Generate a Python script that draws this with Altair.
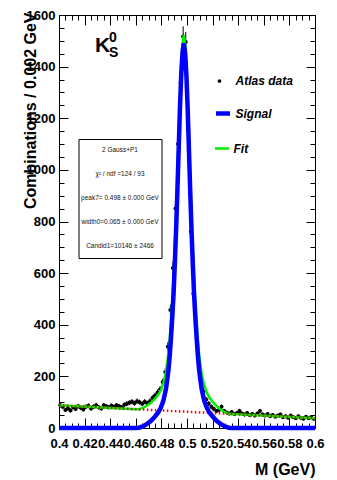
import altair as alt
import pandas as pd

# ---------------- data ----------------
# histogram: 100 bins of 0.002 GeV from 0.400 to 0.600
bin_start = 0.400
bin_width = 0.002
counts = [88, 82, 70, 76, 68, 80, 74, 84, 78, 72,
          82, 86, 76, 82, 88, 80, 76, 88, 84, 80,
          86, 82, 88, 84, 80, 90, 94, 98, 102, 96,
          104, 100, 94, 102, 96, 104, 116, 126, 138, 150,
          178, 217, 315, 457, 620, 850, 1100, 1337, 1517, 1495,
          1153, 760, 520, 400, 270, 185, 140, 110, 95, 82,
          74, 66, 70, 82, 66, 60, 56, 62, 54, 58,
          66, 56, 52, 58, 50, 54, 48, 56, 66, 52,
          48, 54, 46, 50, 44, 48, 52, 42, 46, 40,
          48, 42, 38, 46, 40, 36, 44, 38, 42, 36]
errors = [9.4, 9.1, 8.4, 8.7, 8.2, 8.9, 8.6, 9.2, 8.8, 8.5,
          9.1, 9.3, 8.7, 9.1, 9.4, 8.9, 8.7, 9.4, 9.2, 8.9,
          9.3, 9.1, 9.4, 9.2, 8.9, 9.5, 9.7, 9.9, 10.1, 9.8,
          10.2, 10.0, 9.7, 10.1, 9.8, 10.2, 10.8, 11.2, 11.7, 12.2,
          13.3, 14.7, 17.7, 21.4, 24.9, 29.2, 33.2, 36.6, 38.9, 38.7,
          34.0, 27.6, 22.8, 20.0, 16.4, 13.6, 11.8, 10.5, 9.7, 9.1,
          8.6, 8.1, 8.4, 9.1, 8.1, 7.7, 7.5, 7.9, 7.3, 7.6,
          8.1, 7.5, 7.2, 7.6, 7.1, 7.3, 6.9, 7.5, 8.1, 7.2,
          6.9, 7.3, 6.8, 7.1, 6.6, 6.9, 7.2, 6.5, 6.8, 6.3,
          6.9, 6.5, 6.2, 6.8, 6.3, 6.0, 6.6, 6.2, 6.5, 6.0]

# signal (2 Gaussians) and total fit curves
curve_x = [0.400, 0.4595, 0.4625, 0.4655, 0.4685, 0.4715, 0.4745, 0.4775, 0.4795,
           0.4815, 0.4835, 0.4845, 0.4855, 0.4865, 0.4875, 0.4885, 0.4895, 0.4905,
           0.4915, 0.4925, 0.4935, 0.4945, 0.4955, 0.4965, 0.4975, 0.4985, 0.4995,
           0.5005, 0.5015, 0.5025, 0.5035, 0.5045, 0.5055, 0.5065, 0.5075, 0.5085,
           0.5095, 0.5105, 0.5115, 0.5135, 0.5155, 0.5175, 0.5205, 0.5235, 0.5265,
           0.5295, 0.5325, 0.5355, 0.600]
signal_y = [0, 0, 1, 6, 15, 26, 42, 60, 78,
            105, 150, 185, 225, 280, 350, 430, 520, 640,
            770, 920, 1080, 1240, 1370, 1455, 1490, 1455, 1370,
            1240, 1080, 920, 770, 640, 520, 430, 350, 280,
            225, 185, 150, 105, 78, 60, 42, 26, 15,
            6, 1, 0, 0]
fit_y = [88, 73, 73, 78, 86, 96, 111, 129, 146,
         173, 217, 252, 291, 346, 416, 496, 585, 705,
         835, 985, 1140, 1285, 1405, 1488, 1522, 1488, 1405,
         1285, 1138, 980, 832, 702, 581, 491, 411, 341,
         285, 245, 210, 164, 137, 118, 99, 83, 71,
         61, 55, 54, 38]
# linear background (P1)
bkg_x = [0.400, 0.600]
bkg_y = [88, 38]

# axis tick values
x_major = [0.40, 0.42, 0.44, 0.46, 0.48, 0.50, 0.52, 0.54, 0.56, 0.58, 0.60]
x_minor = [0.400, 0.405, 0.410, 0.415, 0.420, 0.425, 0.430, 0.435, 0.440, 0.445,
           0.450, 0.455, 0.460, 0.465, 0.470, 0.475, 0.480, 0.485, 0.490, 0.495,
           0.500, 0.505, 0.510, 0.515, 0.520, 0.525, 0.530, 0.535, 0.540, 0.545,
           0.550, 0.555, 0.560, 0.565, 0.570, 0.575, 0.580, 0.585, 0.590, 0.595, 0.600]
y_major = [0, 200, 400, 600, 800, 1000, 1200, 1400, 1600]
y_minor = [0, 50, 100, 150, 200, 250, 300, 350, 400, 450, 500, 550, 600, 650, 700,
           750, 800, 850, 900, 950, 1000, 1050, 1100, 1150, 1200, 1250, 1300, 1350,
           1400, 1450, 1500, 1550, 1600]

stats_lines = ["2 Gauss+P1",
               "\u03c7\u00b2 / ndf =124 / 93",
               "peak7= 0.498 \u00b1 0.000 GeV",
               "width0=0.065 \u00b1 0.000 GeV",
               "Candid1=10146 \u00b1 2466"]

# ---------------- frames ----------------
centers = [round(bin_start + bin_width * (i + 0.5), 4) for i in range(len(counts))]
hist = pd.DataFrame({"m": centers, "n": counts, "e": errors})
hist["lo"] = hist["n"] - hist["e"]
hist["hi"] = hist["n"] + hist["e"]
hist["m_lo"] = hist["m"] - bin_width / 2
hist["m_hi"] = hist["m"] + bin_width / 2
hist["series"] = "Atlas data"

sig = pd.DataFrame({"m": curve_x, "v": signal_y, "series": "Signal"})
fit = pd.DataFrame({"m": curve_x, "v": fit_y, "series": "Fit"})
bkg = pd.DataFrame({"m": bkg_x, "v": bkg_y})

FONT = "Liberation Sans"
W, H = 256, 413
xs = alt.Scale(domain=[0.4, 0.6], nice=False, zero=False)
ys = alt.Scale(domain=[0, 1600], nice=False, zero=False)


def tick_axis(orient, values, size):
    return alt.Axis(orient=orient, values=values, tickSize=size, offset=-size,
                    labels=False, domain=False, grid=False, ticks=True,
                    tickColor="black", tickWidth=1)


def legend(x, y, **kw):
    return alt.Legend(orient="none", legendX=x, legendY=y, title=None, padding=0,
                      labelFont=FONT, labelFontSize=12, labelFontWeight="bold",
                      labelFontStyle="italic", labelColor="black", **kw)


x_label_axis = alt.Axis(orient="bottom", values=x_major, format="~g", ticks=False,
                        tickSize=0, domain=False, grid=False, labelFont=FONT,
                        labelFontSize=13, labelFontWeight="bold", labelColor="black",
                        labelPadding=9, labelOverlap=False, labelFlush=False,
                        titleFont=FONT, titleFontSize=16, titleFontWeight="bold",
                        titleColor="black", titleX=W, titleY=46, titleAlign="right",
                        titleBaseline="alphabetic")
y_label_axis = alt.Axis(orient="left", values=y_major, format="d", ticks=False,
                        tickSize=0, domain=False, grid=False, labelFont=FONT,
                        labelFontSize=13, labelFontWeight="bold", labelColor="black",
                        labelPadding=4, labelOverlap=False, labelFlush=False,
                        titleFont=FONT, titleFontSize=16, titleFontWeight="bold",
                        titleColor="black", titleX=-29, titleY=-3, titleAngle=270,
                        titleAlign="right", titleBaseline="middle")

# data: horizontal bin bars (no axes)
hbars = alt.Chart(hist).mark_rule(color="black", strokeWidth=1.2).encode(
    x=alt.X("m_lo:Q", scale=xs, axis=None),
    x2="m_hi:Q",
    y=alt.Y("n:Q", scale=ys, axis=None),
)
# data: vertical error bars (top major / right major ticks)
ebars = alt.Chart(hist).mark_rule(color="black", strokeWidth=1).encode(
    x=alt.X("m:Q", scale=xs, axis=tick_axis("top", x_major, 10), title=None),
    y=alt.Y("lo:Q", scale=ys, axis=tick_axis("right", y_major, 9), title=None),
    y2="hi:Q",
)
# data: markers (top minor / right minor ticks)
points = alt.Chart(hist).mark_point(filled=True, size=16, opacity=1).encode(
    x=alt.X("m:Q", scale=xs, axis=tick_axis("top", x_minor, 5), title=None),
    y=alt.Y("n:Q", scale=ys, axis=tick_axis("right", y_minor, 5), title=None),
    shape=alt.Shape("series:N", scale=alt.Scale(domain=["Atlas data"], range=["circle"]),
                    legend=legend(154.5, 60, symbolSize=14, symbolFillColor="black",
                                  symbolStrokeColor="black", labelOffset=10)),
    color=alt.value("black"),
)
# fit (bottom minor / left minor ticks)
fit_line = alt.Chart(fit).mark_line(strokeWidth=2.5).encode(
    x=alt.X("m:Q", scale=xs, axis=tick_axis("bottom", x_minor, 5), title=None),
    y=alt.Y("v:Q", scale=ys, axis=tick_axis("left", y_minor, 5), title=None),
    color=alt.Color("series:N", scale=alt.Scale(domain=["Fit"], range=["#00ee00"]),
                    legend=legend(154.5, 125, symbolType="stroke", symbolSize=196,
                                  symbolStrokeWidth=2.5, labelOffset=3)),
)
# background (labels + titles)
bkg_line = alt.Chart(bkg).mark_line(color="#ff0000", strokeWidth=2.5,
                                    strokeDash=[1.5, 2.5]).encode(
    x=alt.X("m:Q", scale=xs, axis=x_label_axis, title="M (GeV)"),
    y=alt.Y("v:Q", scale=ys, axis=y_label_axis, title="Combinations / 0.002 GeV"),
)
# signal (bottom major / left major ticks)
sig_line = alt.Chart(sig).mark_line(strokeWidth=4.5).encode(
    x=alt.X("m:Q", scale=xs, axis=tick_axis("bottom", x_major, 10), title=None),
    y=alt.Y("v:Q", scale=ys, axis=tick_axis("left", y_major, 9), title=None),
    stroke=alt.Stroke("series:N", scale=alt.Scale(domain=["Signal"], range=["#0000ff"]),
                      legend=legend(154.5, 89, symbolType="stroke", symbolSize=196,
                                    symbolStrokeWidth=4.5, labelOffset=3)),
)

one = pd.DataFrame({"a": [0]})
k_main = alt.Chart(one).mark_text(text="K", font=FONT, fontSize=21, fontWeight="bold",
                                  align="left", baseline="alphabetic", color="black").encode(
    x=alt.value(36), y=alt.value(37))
k_sup = alt.Chart(one).mark_text(text="0", font=FONT, fontSize=14, fontWeight="bold",
                                 align="left", baseline="alphabetic", color="black").encode(
    x=alt.value(50), y=alt.value(27))
k_sub = alt.Chart(one).mark_text(text="S", font=FONT, fontSize=14, fontWeight="bold",
                                 align="left", baseline="alphabetic", color="black").encode(
    x=alt.value(50), y=alt.value(42))

box = alt.Chart(one).mark_rect(fill="white", stroke="black", strokeWidth=1).encode(
    x=alt.value(20), x2=alt.value(103), y=alt.value(124.5), y2=alt.value(243.5))

stats_layers = []
for i, line in enumerate(stats_lines):
    stats_layers.append(
        alt.Chart(one).mark_text(text=line, font=FONT, fontSize=6.5, align="center",
                                 baseline="middle", color="#111111").encode(
            x=alt.value(61), y=alt.value(135 + 24 * i)))

chart = alt.layer(
    hbars, ebars, points, fit_line, bkg_line, sig_line,
    k_main, k_sup, k_sub, box, *stats_layers
).resolve_axis(x="independent", y="independent").properties(
    width=W, height=H,
    autosize=alt.AutoSizeParams(type="none"),
    padding={"left": 59, "top": 15, "right": 22, "bottom": 52},
    background="white",
).configure_view(stroke="black", strokeWidth=1)

chart.save("out.html", embed_options={"renderer": "svg", "actions": False})
